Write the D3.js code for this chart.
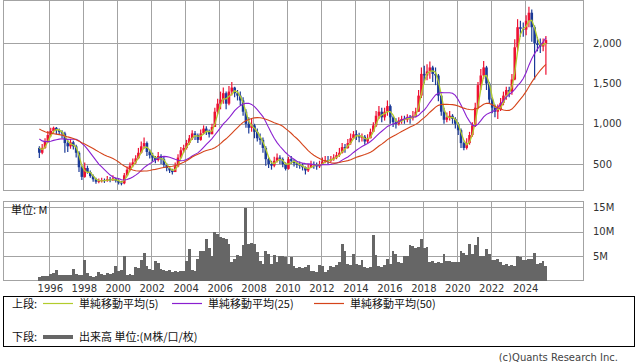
<!DOCTYPE html>
<html lang="ja">
<head>
<meta charset="utf-8">
<title>株価チャート</title>
<script src="https://d3js.org/d3.v7.min.js"></script>
<style>
  body { margin: 0; background: #fff; }
  svg text { font-family: "DejaVu Sans", sans-serif; font-size: 10px; fill: #333; }
  svg text.jp { font-family: "Noto Sans CJK JP", sans-serif; font-size: 11px; fill: #111; }
</style>
</head>
<body>
<svg id="chart" width="638" height="362"></svg>
<script>
// bimonthly bars, first bar = May-Jun 1995
const firstBar = new Date(1995, 4, 1);

// 24 bars before the first bar, only used so the averages start where they do
const warmupCloses = [1200, 1150, 1120, 1100, 1080, 1060, 1050, 1040, 1020, 1010, 1000, 990, 1015,
                      900, 860, 840, 820, 820, 800, 820, 800, 780, 760, 700];

const closes = [
  640, 700, 780, 860,                 // 1995
  910, 950, 920, 900, 880, 760,       // 1996
  720, 770, 720, 640, 460, 340,       // 1997
  450, 400, 350, 310, 280, 290,       // 1998
  300, 290, 310, 300, 320, 290,       // 1999
  270, 260, 360, 430, 480, 520,       // 2000
  570, 640, 720, 760, 650, 610,       // 2001
  580, 550, 600, 560, 490, 450,       // 2002
  420, 400, 470, 580, 670, 700,       // 2003
  760, 820, 880, 860, 800, 880,       // 2004
  940, 900, 870, 960, 1150, 1250,     // 2005
  1300, 1380, 1250, 1400, 1450, 1380, // 2006
  1350, 1290, 1150, 1000, 950, 980,   // 2007
  900, 820, 800, 700, 560, 500,       // 2008
  480, 540, 580, 560, 500, 440,       // 2009
  560, 540, 510, 490, 480, 460,       // 2010
  420, 450, 500, 490, 470, 500,       // 2011
  530, 550, 540, 560, 580, 610,       // 2012
  640, 710, 700, 760, 820, 870,       // 2013
  860, 830, 840, 780, 820, 900,       // 2014
  980, 1100, 1150, 1080, 1150, 1220,  // 2015
  1080, 1020, 1000, 1040, 1060, 1050, // 2016
  1080, 1070, 1100, 1150, 1350, 1620, // 2017
  1600, 1650, 1700, 1620, 1600, 1350, // 2018
  1150, 1050, 1080, 1100, 1060, 1000, // 2019
  920, 760, 700, 760, 860, 980,       // 2020
  1200, 1480, 1600, 1700, 1500, 1300, // 2021
  1200, 1150, 1180, 1260, 1350, 1420, // 2022
  1400, 1550, 1950, 2200, 2180, 2170, // 2023
  2280, 2380, 2200, 2000, 1980, 1960, // 2024
  2000, 2040                          // 2025
];

const highs = [
  720, 750, 820, 910,
  950, 965, 960, 940, 920, 900,
  800, 810, 790, 740, 660, 480,
  520, 480, 420, 370, 330, 320,
  330, 320, 350, 340, 360, 330,
  310, 290, 390, 470, 520, 570,
  610, 700, 780, 830, 780, 680,
  640, 600, 650, 620, 590, 510,
  460, 440, 520, 620, 710, 740,
  800, 860, 920, 910, 880, 930,
  980, 970, 930, 1000, 1200, 1310,
  1400, 1450, 1400, 1470, 1520, 1460,
  1420, 1400, 1330, 1180, 1080, 1070,
  1000, 940, 880, 830, 720, 580,
  540, 590, 630, 610, 580, 520,
  590, 600, 560, 530, 530, 510,
  470, 500, 540, 530, 520, 540,
  580, 600, 600, 600, 620, 650,
  700, 760, 750, 810, 880, 910,
  920, 890, 880, 860, 870, 940,
  1020, 1160, 1220, 1200, 1200, 1290,
  1240, 1100, 1070, 1080, 1100, 1100,
  1120, 1110, 1160, 1200, 1420, 1700,
  1720, 1740, 1775, 1720, 1700, 1620,
  1360, 1200, 1140, 1160, 1120, 1080,
  1020, 940, 780, 820, 900, 1020,
  1260, 1520, 1680, 1780, 1720, 1520,
  1320, 1240, 1240, 1320, 1400, 1460,
  1460, 1620, 2050, 2300, 2280, 2260,
  2350, 2455, 2420, 2220, 2080, 2060,
  2060, 2090
];

const lows = [
  575, 620, 690, 760,
  840, 880, 870, 860, 820, 640,
  650, 690, 680, 580, 400, 300,
  330, 380, 330, 280, 255, 260,
  270, 265, 280, 275, 290, 270,
  245, 235, 250, 350, 410, 460,
  500, 560, 630, 690, 600, 570,
  530, 510, 530, 500, 450, 410,
  390, 370, 400, 460, 570, 640,
  680, 740, 800, 800, 760, 790,
  870, 860, 830, 880, 960, 1120,
  1180, 1250, 1180, 1230, 1350, 1330,
  1290, 1230, 1100, 950, 880, 900,
  820, 780, 740, 640, 480, 450,
  430, 460, 520, 500, 460, 420,
  430, 500, 470, 450, 440, 420,
  370, 400, 450, 440, 430, 450,
  490, 510, 500, 520, 540, 560,
  590, 630, 640, 690, 740, 810,
  800, 770, 780, 740, 760, 820,
  900, 960, 1060, 1020, 1040, 1100,
  1000, 960, 940, 980, 1000, 1000,
  1020, 1000, 1040, 1080, 1150, 1320,
  1500, 1540, 1560, 1520, 1480, 1280,
  1100, 1000, 1020, 1040, 1000, 940,
  860, 700, 670, 680, 740, 840,
  960, 1180, 1420, 1560, 1420, 1250,
  1130, 1080, 1060, 1160, 1230, 1300,
  1330, 1360, 1540, 1900, 2080, 2080,
  2100, 2200, 2020, 1550, 1900, 1880,
  1900, 1610
];

// volume, millions
const volumes = [
  0.8, 0.9, 0.9, 1.0,
  1.3, 1.6, 2.1, 1.2, 1.1, 1.2,
  1.2, 1.1, 2.4, 1.3, 1.1, 1.2,
  4.3, 1.5, 1.0, 0.8, 1.0, 1.8,
  1.4, 1.2, 1.5, 1.3, 1.6, 3.0,
  2.0, 2.2, 5.1, 1.2, 1.3, 1.2,
  2.8, 2.6, 4.3, 5.7, 3.0, 2.4,
  2.2, 3.9, 3.6, 2.4, 2.1, 2.0,
  2.1, 1.8, 1.9, 1.7, 2.0, 1.9,
  4.1, 6.4, 2.2, 2.0, 4.5, 6.1,
  6.1, 8.5, 6.6, 5.0, 10.0, 9.5,
  9.0, 8.8, 8.5, 7.5, 3.8, 4.5,
  5.3, 5.0, 7.2, 14.8, 7.5, 7.6,
  7.4, 5.8, 4.0, 3.4, 6.1, 5.5,
  3.4, 5.3, 3.8, 5.1, 5.0, 4.8,
  3.4, 4.8, 3.0, 2.6, 2.8, 2.5,
  2.8, 3.2, 1.9, 2.0, 1.8, 3.2,
  3.0, 1.8, 2.2, 3.0, 2.8, 3.2,
  3.8, 7.5, 6.0, 3.4, 3.2, 5.5,
  3.4, 3.2, 4.3, 2.8, 2.6, 2.8,
  9.3, 5.3, 3.0, 2.8, 3.2, 4.5,
  3.4, 6.1, 5.5, 3.8, 3.6, 5.1,
  5.1, 7.2, 7.0, 6.6, 6.8, 8.6,
  6.6, 6.8, 3.8, 3.9, 3.6, 3.8,
  3.6, 5.5, 4.1, 4.0, 3.8, 3.7,
  3.8, 6.1, 5.6, 5.3, 7.5, 5.5,
  7.2, 9.0, 5.1, 5.0, 6.5, 5.5,
  4.3, 4.2, 4.4, 3.8, 3.1, 3.3,
  3.0, 3.2, 3.0, 5.1, 4.8, 4.3,
  4.3, 4.4, 4.5, 5.7, 3.4, 3.5,
  4.1, 3.0
];

const maMonths = [5, 25, 50];
const maColors = ["#b2cc2c", "#8a1fd0", "#d5441a"];
const maLabels = ["単純移動平均(5)", "単純移動平均(25)", "単純移動平均(50)"];
const priceTicks = [500, 1000, 1500, 2000];
const volumeTicks = [5, 10, 15];
const yearTicks = d3.range(1996, 2025, 2);

const upColor = "#ee1133";
const downColor = "#1b3a98";
const gridColor = "#a3a3a3";

const svg = d3.select("#chart");
const left = 3.5, right = 583.5;

const x = d3.scaleTime()
    .domain([new Date(1996, 0, 1), new Date(2024, 0, 1)])
    .range([49.3, 524.7]);
const y = d3.scaleLinear().domain([171, 2532]).range([190.5, 0.5]);
const yv = d3.scaleLinear().domain([0, 16.2]).range([280.5, 201.5]);
const px = v => Math.round(v) + 0.5;

const bars = closes.map((c, i) => {
  const start = d3.timeMonth.offset(firstBar, 2 * i);
  return {
    start: start,
    mid: d3.timeMonth.offset(start, 1),
    end: d3.timeMonth.offset(start, 2),
    open: i === 0 ? warmupCloses[warmupCloses.length - 1] : closes[i - 1],
    close: c,
    high: highs[i],
    low: lows[i],
    vol: volumes[i]
  };
});

// panels + grid
function panel(top, bottom, ticks, scale) {
  const g = svg.append("g");
  g.selectAll("line.v").data(yearTicks).join("line")
    .attr("x1", d => px(x(new Date(d, 0, 1)))).attr("x2", d => px(x(new Date(d, 0, 1))))
    .attr("y1", top).attr("y2", bottom)
    .attr("stroke", gridColor);
  g.selectAll("line.h").data(ticks).join("line")
    .attr("x1", left).attr("x2", right)
    .attr("y1", d => px(scale(d))).attr("y2", d => px(scale(d)))
    .attr("stroke", gridColor);
  g.append("rect")
    .attr("x", left).attr("y", top)
    .attr("width", right - left).attr("height", bottom - top)
    .attr("fill", "none").attr("stroke", gridColor);
}
panel(0.5, 190.5, priceTicks, y);
panel(201.5, 280.5, volumeTicks, yv);

// right axis labels
svg.selectAll("text.price").data(priceTicks).join("text")
  .attr("x", 593).attr("y", d => y(d)).attr("dy", "0.36em")
  .text(d => d3.format(",")(d));
svg.selectAll("text.vol").data(volumeTicks).join("text")
  .attr("x", 593).attr("y", d => yv(d)).attr("dy", "0.36em")
  .text(d => d + "M");

// year labels
svg.selectAll("text.year").data(yearTicks).join("text")
  .attr("x", d => x(new Date(d, 0, 1)) + 1).attr("y", 291.5)
  .attr("text-anchor", "middle")
  .text(d => d);

svg.append("text").attr("class", "jp")
  .attr("x", 11).attr("y", 214).text("単位: M");

// volume bars
svg.append("g").selectAll("rect").data(bars).join("rect")
  .attr("x", d => x(d.start))
  .attr("width", d => x(d.end) - x(d.start))
  .attr("y", d => yv(d.vol))
  .attr("height", d => yv(0) - yv(d.vol))
  .attr("fill", "#666")
  .attr("shape-rendering", "crispEdges");

// candles
const candles = svg.append("g");
candles.selectAll("line").data(bars).join("line")
  .attr("x1", d => x(d.mid)).attr("x2", d => x(d.mid))
  .attr("y1", d => y(Math.max(d.high, d.open, d.close)))
  .attr("y2", d => y(Math.min(d.low, d.open, d.close)))
  .attr("stroke", d => d.close >= d.open ? upColor : downColor)
  .attr("stroke-width", 1.2);
candles.selectAll("rect").data(bars).join("rect")
  .attr("x", d => x(d.mid) - 1.3)
  .attr("width", 2.6)
  .attr("y", d => y(Math.max(d.open, d.close)))
  .attr("height", d => Math.max(1, Math.abs(y(d.open) - y(d.close))))
  .attr("fill", d => d.close >= d.open ? upColor : downColor);

// moving averages (2 months per bar)
const allCloses = warmupCloses.concat(closes);
const line = d3.line();
maMonths.forEach((m, k) => {
  const n = Math.round(m / 2);
  const pts = bars.map((b, i) => {
    const j = i + warmupCloses.length;
    return [x(b.mid), y(d3.mean(allCloses.slice(j - n + 1, j + 1)))];
  });
  svg.append("path")
    .attr("d", line(pts))
    .attr("fill", "none")
    .attr("stroke", maColors[k])
    .attr("stroke-width", k === 0 ? 1.3 : 1.1);
});

// legend
const legend = svg.append("g");
legend.append("rect")
  .attr("x", 3.5).attr("y", 296.5).attr("width", 631).attr("height", 50)
  .attr("fill", "none").attr("stroke", "#000");
legend.append("text").attr("class", "jp").attr("x", 12).attr("y", 307.5).text("上段:");
const legendX = [43, 172, 314];
maLabels.forEach((label, k) => {
  legend.append("line")
    .attr("x1", legendX[k]).attr("x2", legendX[k] + 30)
    .attr("y1", 303.5).attr("y2", 303.5)
    .attr("stroke", maColors[k]).attr("stroke-width", 1.2);
  legend.append("text").attr("class", "jp")
    .attr("x", legendX[k] + 36).attr("y", 307.5).text(label);
});
legend.append("text").attr("class", "jp").attr("x", 12).attr("y", 341).text("下段:");
legend.append("line")
  .attr("x1", 43).attr("x2", 73).attr("y1", 337).attr("y2", 337)
  .attr("stroke", "#666").attr("stroke-width", 4);
legend.append("text").attr("class", "jp").attr("x", 79).attr("y", 341).text("出来高 単位:(M株/口/枚)");

svg.append("text")
  .attr("x", 618).attr("y", 360.5).attr("text-anchor", "end")
  .style("fill", "#444")
  .text("(c)Quants Research Inc.");
</script>
</body>
</html>
